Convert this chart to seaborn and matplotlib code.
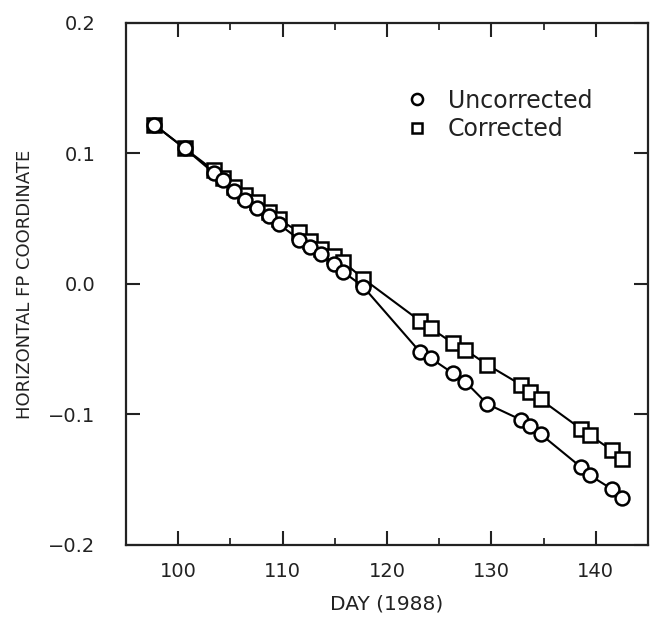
import matplotlib
matplotlib.use("Agg")
import matplotlib.pyplot as plt
from matplotlib.lines import Line2D
from matplotlib.ticker import MultipleLocator
import numpy as np
import pandas as pd
import seaborn as sns

# Data
days_corr = [97.7, 100.6, 103.4, 104.3, 105.3, 106.4, 107.5, 108.7, 109.6,
             111.6, 112.6, 113.7, 114.9, 115.8, 117.7,
             123.2, 124.2, 126.3, 127.5, 129.6, 132.8, 133.7, 134.7,
             138.6, 139.4, 141.5, 142.5]
corrected = [0.122, 0.104, 0.087, 0.0815, 0.0746, 0.0685, 0.0625, 0.0549, 0.0496,
             0.0398, 0.0329, 0.0268, 0.0215, 0.0170, 0.0041,
             -0.0286, -0.034, -0.0453, -0.0505, -0.0619, -0.0771, -0.0824, -0.0885,
             -0.1112, -0.1158, -0.1272, -0.134]
days_unc = days_corr
uncorrected = [0.122, 0.104, 0.085, 0.080, 0.071, 0.064, 0.058, 0.052, 0.046,
               0.034, 0.028, 0.023, 0.0155, 0.0093, -0.002,
               -0.0525, -0.057, -0.0684, -0.075, -0.092, -0.104, -0.109, -0.115,
               -0.1405, -0.1465, -0.157, -0.164]
series_names = ["Uncorrected", "Corrected"]
x_ticks = [100, 110, 120, 130, 140]
y_ticks = [-0.2, -0.1, 0.0, 0.1, 0.2]
y_ticklabels = ["\u22120.2", "\u22120.1", "0.0", "0.1", "0.2"]

df = pd.DataFrame({
    "day": days_corr + days_unc,
    "value": corrected + uncorrected,
    "series": ["Corrected"] * len(days_corr) + ["Uncorrected"] * len(days_unc),
})

sns.set_theme(style="ticks")
plt.rcParams["font.family"] = ["DejaVu Sans"]

fig = plt.figure(figsize=(6.5, 6.2), dpi=100)
ax = fig.add_axes([0.194, 0.121, 0.803, 0.842])

sns.lineplot(data=df[df.series == "Corrected"], x="day", y="value",
             marker="s", color="black", estimator=None, sort=True,
             markersize=9.5, markerfacecolor="white", markeredgecolor="black",
             markeredgewidth=1.8, linewidth=1.5, ax=ax, legend=False, zorder=3)
sns.lineplot(data=df[df.series == "Uncorrected"], x="day", y="value",
             marker="o", color="black", estimator=None, sort=True,
             markersize=10, markerfacecolor="white", markeredgecolor="black",
             markeredgewidth=1.8, linewidth=1.5, ax=ax, legend=False, zorder=4)

ax.set_xlim(95, 145)
ax.set_ylim(-0.2, 0.2)
ax.set_xticks(x_ticks)
ax.xaxis.set_minor_locator(MultipleLocator(5))
ax.set_yticks(y_ticks)
ax.set_yticklabels(y_ticklabels)

ax.tick_params(axis="both", which="major", direction="in", length=10, width=1.5,
               top=True, right=True, labelsize=14, colors="#222222")
ax.tick_params(axis="x", which="major", pad=12)
ax.tick_params(axis="y", which="major", pad=22)
ax.tick_params(axis="x", which="minor", direction="in", length=5, width=1.3,
               top=True, bottom=True)
for s in ax.spines.values():
    s.set_linewidth(1.6)
    s.set_color("#222222")

ax.set_xlabel("DAY (1988)", fontsize=14.5, color="#222222", labelpad=10)
ax.set_ylabel("HORIZONTAL FP COORDINATE", fontsize=13, color="#222222", labelpad=10)

handles = [Line2D([], [], marker="o", linestyle="none", markersize=8,
                  markerfacecolor="white", markeredgecolor="black", markeredgewidth=1.8),
           Line2D([], [], marker="s", linestyle="none", markersize=7,
                  markerfacecolor="white", markeredgecolor="black", markeredgewidth=1.8)]
ax.legend(handles, series_names, loc="upper left", bbox_to_anchor=(0.49, 0.915),
          frameon=False, fontsize=17, handletextpad=0.7, labelspacing=0.2,
          handlelength=1.2, labelcolor="#222222")

fig.savefig("out.png", dpi=100, facecolor="white")
